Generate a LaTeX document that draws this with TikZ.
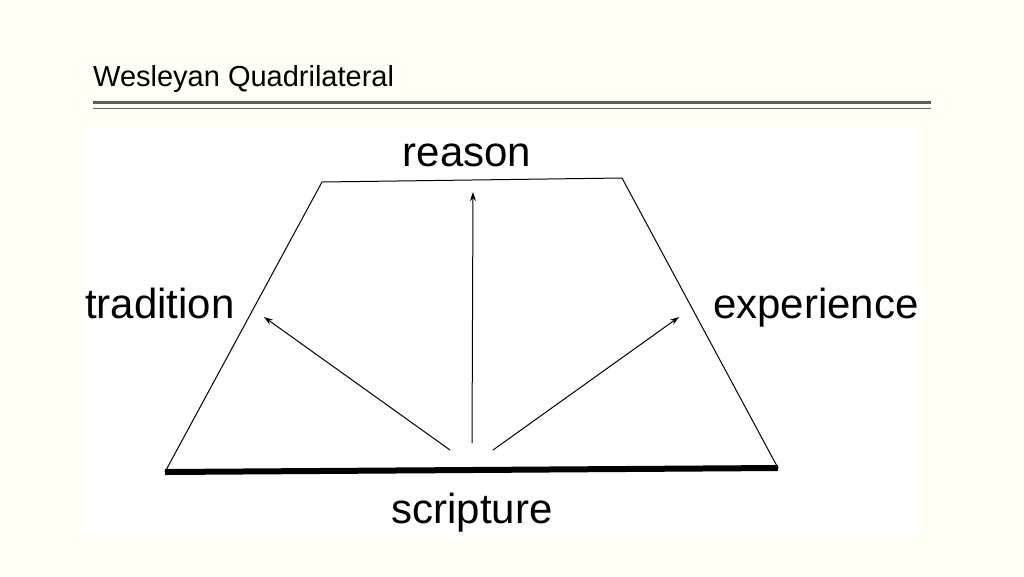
\documentclass[tikz,border=0pt]{standalone}
\usepackage{fontspec}
\setmainfont{Liberation Sans}
\usetikzlibrary{arrows.meta}
\definecolor{pagecolor}{RGB}{255,255,245}
\definecolor{rulecolor}{RGB}{95,95,95}

\begin{document}
\begin{tikzpicture}[%
    x=1pt, y=-1pt,              % Pixel-like grid, origin top left
    >={Stealth[length=9pt,width=6pt]},
    ]
\tikzset{
  word/.style={inner sep=0pt, anchor=base, font=\fontsize{42}{42}\selectfont},
  edge/.style={line width=1pt},
  ray/.style={->, line width=1pt},
}

\fill [pagecolor] (0,0) rectangle (1024,576);
\fill [white] (83,127) rectangle (922,538);

% title and double rule
\node [anchor=base west, inner sep=0pt, font=\fontsize{29}{29}\selectfont] (title) at (93,86) {Wesleyan Quadrilateral};
\draw [rulecolor, line width=3pt] (93,102) -- (931,102);
\draw [rulecolor, line width=1pt] (93,108) -- (931,108);

% corners of the quadrilateral
\coordinate (tl) at (322,182);
\coordinate (tr) at (622,178);
\coordinate (br) at (778,468);
\coordinate (bl) at (165,472);

\draw [edge] (bl) -- (tl) -- (tr) -- (br);
\draw [line width=6pt] (bl) -- (br);

\node [word] (reason) at (467,166) {reason};
\node [word] (tradition) at (160,318) {tradition};
\node [word] (experience) at (816,318) {experience};
\node [word] (scripture) at (472,523) {scripture};

% rays from scripture
\coordinate (s0) at (472,443);
\coordinate (s1) at (450,450);
\coordinate (s2) at (493,450);
\coordinate (t0) at (473,192);
\coordinate (t1) at (264,317);
\coordinate (t2) at (679,317);

\draw [ray] (s0) -- (t0);
\draw [ray] (s1) -- (t1);
\draw [ray] (s2) -- (t2);

\end{tikzpicture}
\end{document}
